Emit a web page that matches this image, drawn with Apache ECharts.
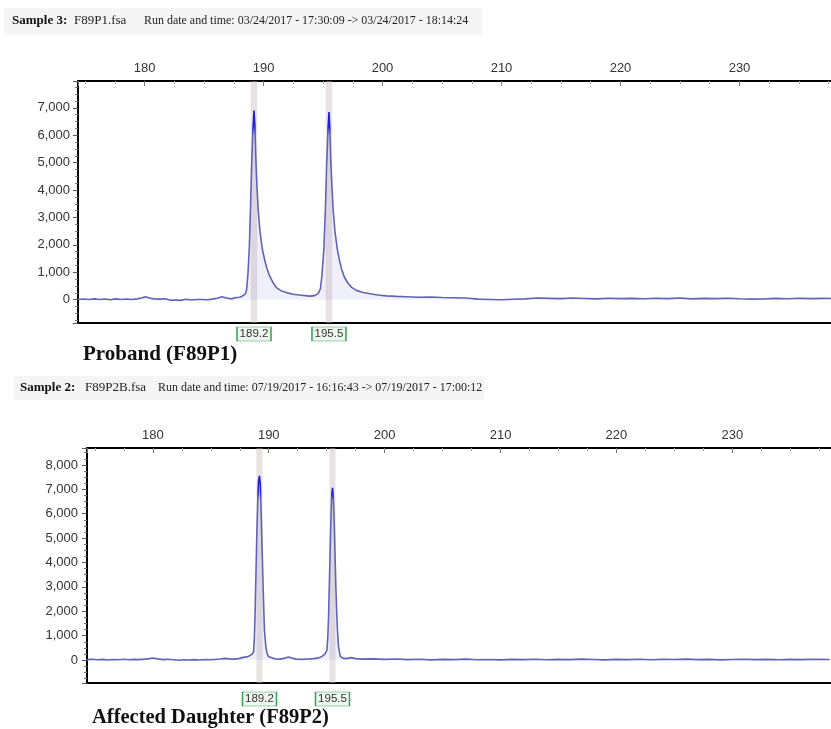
<!DOCTYPE html>
<html>
<head>
<meta charset="utf-8">
<script src="https://cdn.jsdelivr.net/npm/echarts@6/dist/echarts.min.js"></script>
<style>
html,body{margin:0;padding:0;background:#fff;}
#chart{width:831px;height:729px;}
</style>
</head>
<body>
<div id="chart"></div>
<script>
// ---- Data (size in bp, signal in RFU) ----
const traceP1 = [
[174.4,10],[174.9,25],[175.3,5],[175.8,30],[176.2,10],[176.7,25],[177.1,0],[177.6,30],[178.0,10],[178.5,25],
[178.9,5],[179.4,30],[179.8,70],[180.1,110],[180.4,60],[180.8,30],[181.3,20],[181.7,35],[182.2,-20],[182.6,-10],
[183.0,-25],[183.5,15],[183.9,-10],[184.4,5],[184.8,10],[185.3,0],[185.7,20],[186.1,50],[186.5,110],[186.9,60],
[187.3,30],[187.7,80],[188.0,90],[188.3,150],[188.5,230],[188.59,400],[188.7,1000],[188.81,1900],[188.91,3400],[189.01,5000],
[189.1,6100],[189.2,6900],[189.27,6400],[189.35,5200],[189.43,4300],[189.55,3300],[189.7,2500],[189.9,1850],[190.1,1450],[190.27,1160],
[190.5,880],[190.8,620],[191.11,430],[191.5,320],[192.0,250],[192.48,200],[193.0,170],[193.5,150],[193.9,130],[194.3,150],
[194.6,230],[194.78,400],[194.89,800],[194.98,1300],[195.08,1900],[195.2,3300],[195.31,5000],[195.42,6200],[195.5,6850],[195.57,6300],
[195.65,5100],[195.73,4300],[195.85,3300],[196.0,2500],[196.2,1850],[196.4,1400],[196.57,1100],[196.8,820],[197.1,600],[197.41,450],
[197.8,340],[198.3,270],[198.95,220],[199.6,170],[200.3,140],[201.19,120],[202,110],[203,90],[204,100],[205,80],
[206,70],[207,60],[208,20],[209,10],[210,0],[211,15],[212,30],[213,60],[214,50],[215,40],
[216,60],[217,45],[218,30],[219,55],[220,40],[221,50],[222,35],[223,55],[224,40],[225,60],
[226,30],[227,50],[228,40],[229,55],[230,35],[231,20],[232,25],[233,50],[234,35],[235,55],
[236,40],[237,50],[237.7,45]
];
const traceP2 = [
[174.3,20],[174.8,35],[175.2,10],[175.7,30],[176.1,5],[176.6,25],[177.0,15],[177.5,35],[177.9,10],[178.4,30],
[178.8,20],[179.3,40],[179.7,60],[180.0,85],[180.4,50],[180.9,20],[181.3,35],[181.8,10],[182.2,-10],[182.7,15],
[183.1,0],[183.6,20],[184.0,5],[184.5,25],[184.9,15],[185.4,30],[185.8,45],[186.2,70],[186.6,50],[187.0,40],
[187.4,60],[187.8,110],[188.1,130],[188.35,180],[188.55,240],[188.69,330],[188.76,900],[188.83,2040],[188.9,3600],[188.98,5300],
[189.05,6500],[189.12,7350],[189.2,7550],[189.27,7200],[189.35,6000],[189.42,4700],[189.5,3270],[189.57,2100],[189.63,1220],[189.74,600],
[189.84,290],[189.97,150],[190.1,80],[190.5,50],[191.0,40],[191.4,80],[191.7,130],[192.0,80],[192.4,40],[192.9,30],
[193.4,45],[193.9,60],[194.3,90],[194.6,150],[194.87,260],[195.02,420],[195.09,900],[195.16,1750],[195.23,3100],[195.3,4600],
[195.38,6000],[195.44,6800],[195.5,7060],[195.57,6700],[195.65,5600],[195.72,4300],[195.79,3000],[195.86,2000],[195.93,1200],[196.02,550],
[196.17,150],[196.4,80],[196.7,60],[197.1,100],[197.5,60],[198.0,40],[199,50],[200,30],[201,45],[202,20],
[203,35],[204,10],[205,30],[206,20],[207,40],[208,15],[209,25],[210,10],[211,30],[212,20],
[213,35],[214,15],[215,30],[216,20],[217,40],[218,25],[219,10],[220,30],[221,20],[222,35],
[223,15],[224,30],[225,25],[226,40],[227,20],[228,30],[229,10],[230,25],[231,35],[232,20],
[233,30],[234,15],[235,30],[236,20],[237,35],[238.4,25]
];
const peakSizes = [189.2, 195.5];
const peakLabels = ['189.2', '195.5'];
const xRangeP1 = [174.41, 237.69];
const xRangeP2 = [174.32, 238.51];
const yRangeP1 = [-850, 7980];
const yRangeP2 = [-940, 8694];

const sampleTitles = [
  {bold: 'Sample 3:', file: 'F89P1.fsa', run: 'Run date and time: 03/24/2017 - 17:30:09 -> 03/24/2017 - 18:14:24'},
  {bold: 'Sample 2:', file: 'F89P2B.fsa', run: 'Run date and time: 07/19/2017 - 16:16:43 -> 07/19/2017 - 17:00:12'}
];
const panelCaptions = ['Proband (F89P1)', 'Affected Daughter (F89P2)'];

// ---- Chart ----
const chart = echarts.init(document.getElementById('chart'), null, {renderer: 'canvas'});
const AX = 'Arial, "Liberation Sans", sans-serif';
const SERIF = '"Liberation Serif", "Times New Roman", serif';

function xTop(grid, range) {
  return {
    gridIndex: grid, type: 'value', position: 'top', min: range[0], max: range[1], splitNumber: 6,
    axisLine: {show: true, onZero: false, lineStyle: {color: '#000', width: 2}},
    axisTick: {show: true, inside: true, length: 5, lineStyle: {color: '#777'}},
    minorTick: {show: true, splitNumber: 4, length: 3, lineStyle: {color: '#aaa'}},
    axisLabel: {show: true, fontSize: 13, fontFamily: AX, color: '#333', margin: 6, showMinLabel: false, showMaxLabel: false},
    splitLine: {show: false}
  };
}
function xBottom(grid, range) {
  return {
    gridIndex: grid, type: 'value', position: 'bottom', min: range[0], max: range[1],
    axisLine: {show: true, onZero: false, lineStyle: {color: '#000', width: 2}},
    axisTick: {show: false}, axisLabel: {show: false}, splitLine: {show: false}
  };
}
function yLeft(grid, range, margin) {
  return {
    gridIndex: grid, type: 'value', min: range[0], max: range[1], splitNumber: 8,
    axisLine: {show: true, onZero: false, lineStyle: {color: '#000', width: 2}},
    axisTick: {show: true, length: 5, lineStyle: {color: '#555'}},
    minorTick: {show: true, splitNumber: 4, length: 3, lineStyle: {color: '#777'}},
    axisLabel: {fontSize: 13, fontFamily: AX, color: '#333', margin: margin, showMinLabel: false, showMaxLabel: false,
      formatter: v => Math.round(v).toLocaleString('en-US')},
    splitLine: {show: false}
  };
}
function traceSeries(idx, data, yMin, labelOffset, halfBand) {
  return {
    type: 'line', xAxisIndex: idx * 2, yAxisIndex: idx, data: data,
    showSymbol: false, symbol: 'none', smooth: false,
    lineStyle: {
      width: 1.6,
      color: new echarts.graphic.LinearGradient(0, 0, 0, 1, [
        {offset: 0, color: '#1f1fdc'}, {offset: 0.1, color: '#1f1fdc'},
        {offset: 0.14, color: '#6262b6'}, {offset: 1, color: '#6262b6'}
      ])
    },
    itemStyle: {color: '#6262b6'},
    areaStyle: {color: 'rgba(125,125,215,0.16)'},
    z: 3,
    markArea: {
      silent: true,
      itemStyle: {color: 'rgba(200,185,185,0.42)'},
      data: peakSizes.map(p => [{xAxis: p - halfBand}, {xAxis: p + halfBand}])
    },
    markPoint: {
      silent: true,
      symbol: 'rect', symbolSize: [34, 14], symbolOffset: [0, labelOffset],
      itemStyle: {color: '#eef7ef', borderColor: '#3f9f5f', borderWidth: 1},
      label: {show: true, position: 'inside', formatter: '{b}', color: '#333', fontSize: 11.5, fontFamily: AX},
      data: peakSizes.map((p, i) => ({name: peakLabels[i], coord: [p, yMin]}))
    }
  };
}

function titleGraphics(t, x0, xFile, xRun, yc) {
  return [
    {type: 'text', x: x0, y: yc, style: {text: t.bold, font: 'bold 13px ' + SERIF, fill: '#111', verticalAlign: 'middle'}},
    {type: 'text', x: xFile, y: yc, style: {text: t.file, font: '13px ' + SERIF, fill: '#222', verticalAlign: 'middle'}},
    {type: 'text', x: xRun, y: yc, scaleX: 0.92, style: {text: t.run, font: '13px ' + SERIF, fill: '#222', verticalAlign: 'middle'}}
  ];
}

const option = {
  animation: false,
  backgroundColor: '#fff',
  grid: [
    {left: 78, top: 81, width: 753, height: 242},
    {left: 87, top: 448, width: 744, height: 235}
  ],
  xAxis: [xTop(0, xRangeP1), xBottom(0, xRangeP1), xTop(1, xRangeP2), xBottom(1, xRangeP2)],
  yAxis: [yLeft(0, yRangeP1, 8), yLeft(1, yRangeP2, 9)],
  series: [
    traceSeries(0, traceP1, yRangeP1[0], 11, 0.27),
    traceSeries(1, traceP2, yRangeP2[0], 16, 0.26)
  ],
  graphic: [
    {type: 'rect', shape: {x: 4, y: 8, width: 478, height: 27}, style: {fill: '#f5f5f5'}, z: -1},
    {type: 'rect', shape: {x: 14, y: 376, width: 470, height: 24}, style: {fill: '#f5f5f5'}, z: -1},
    ...titleGraphics(sampleTitles[0], 12, 74, 144, 21),
    ...titleGraphics(sampleTitles[1], 20, 85, 158, 388),
    {type: 'text', x: 83, y: 355, style: {text: panelCaptions[0], font: 'bold 21px ' + SERIF, fill: '#111', verticalAlign: 'middle'}},
    {type: 'text', x: 92, y: 718, style: {text: panelCaptions[1], font: 'bold 20.5px ' + SERIF, fill: '#111', verticalAlign: 'middle'}}
  ]
};
chart.setOption(option);
</script>
</body>
</html>
